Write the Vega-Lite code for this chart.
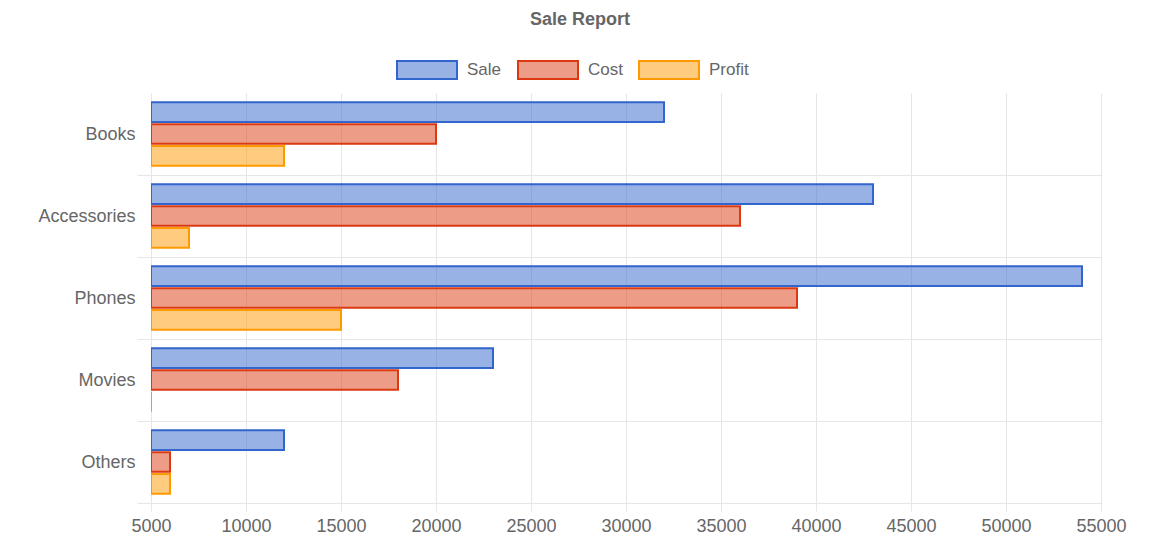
{
  "$schema": "https://vega.github.io/schema/vega-lite/v6.json",
  "width": 950,
  "height": 410,
  "autosize": "none",
  "padding": {"left": 151, "top": 93, "right": 52, "bottom": 52},
  "background": "white",
  "title": {"text": "Sale Report", "anchor": "middle", "dx": -46, "offset": 10, "fontSize": 18, "fontWeight": "bold", "color": "#666", "font": "Liberation Sans"},
  "data": {"values": [
    {"category": "Books", "series": "Sale", "value": 32000},
    {"category": "Books", "series": "Cost", "value": 20000},
    {"category": "Books", "series": "Profit", "value": 12000},
    {"category": "Accessories", "series": "Sale", "value": 43000},
    {"category": "Accessories", "series": "Cost", "value": 36000},
    {"category": "Accessories", "series": "Profit", "value": 7000},
    {"category": "Phones", "series": "Sale", "value": 54000},
    {"category": "Phones", "series": "Cost", "value": 39000},
    {"category": "Phones", "series": "Profit", "value": 15000},
    {"category": "Movies", "series": "Sale", "value": 23000},
    {"category": "Movies", "series": "Cost", "value": 18000},
    {"category": "Movies", "series": "Profit", "value": 5000},
    {"category": "Others", "series": "Sale", "value": 12000},
    {"category": "Others", "series": "Cost", "value": 6000},
    {"category": "Others", "series": "Profit", "value": 6000}
  ]},
  "mark": {"type": "bar", "fillOpacity": 0.5, "strokeWidth": 2, "clip": true},
  "encoding": {
    "y": {"field": "category", "type": "nominal", "sort": ["Books", "Accessories", "Phones", "Movies", "Others"],
      "scale": {"paddingInner": 0, "paddingOuter": 0},
      "axis": {"title": null, "tickBand": "extent", "grid": true, "gridColor": "#e6e6e6", "gridWidth": 1,
        "gridOpacity": {"condition": {"test": "datum.extra", "value": 0}, "value": 1},
        "tickOpacity": {"condition": {"test": "datum.extra", "value": 0}, "value": 1},
        "tickColor": "#e6e6e6", "tickSize": 14, "domain": false, "labelPadding": 2,
        "labelFontSize": 18, "labelColor": "#666", "labelFont": "Liberation Sans"}},
    "yOffset": {"field": "series", "type": "nominal", "sort": ["Sale", "Cost", "Profit"],
      "scale": {"paddingInner": 0.1, "paddingOuter": 0.425}},
    "x": {"field": "value", "type": "quantitative",
      "scale": {"domain": [5000, 55000], "nice": false, "zero": false},
      "axis": {"title": null, "values": [5000, 10000, 15000, 20000, 25000, 30000, 35000, 40000, 45000, 50000, 55000],
        "format": "d", "grid": true, "gridColor": "#e6e6e6", "tickColor": "#e6e6e6", "tickSize": 8, "labelFlush": false,
        "domain": true, "domainColor": "#e6e6e6", "labelPadding": 6, "labelFontSize": 18, "labelColor": "#666", "labelFont": "Liberation Sans"}},
    "x2": {"datum": 5000},
    "color": {"field": "series", "type": "nominal", "sort": ["Sale", "Cost", "Profit"],
      "scale": {"domain": ["Sale", "Cost", "Profit"], "range": ["#3366CC", "#DC3912", "#FF9900"]},
      "legend": {"title": null, "orient": "none", "direction": "horizontal", "legendX": 245, "legendY": -54,
        "padding": 0, "symbolType": "M-1,-0.3H1V0.3H-1Z", "symbolSize": 3600, "symbolStrokeWidth": 2,
        "labelOffset": 9, "columnPadding": 12, "labelFontSize": 17, "labelColor": "#666", "labelFont": "Liberation Sans",
        "encode": {"symbols": {"update": {"fillOpacity": {"value": 0.5}, "strokeWidth": {"value": 2}}}}}},
    "stroke": {"field": "series", "type": "nominal",
      "scale": {"domain": ["Sale", "Cost", "Profit"], "range": ["#3366CC", "#DC3912", "#FF9900"]},
      "legend": null}
  },
  "config": {"view": {"stroke": null}}
}
